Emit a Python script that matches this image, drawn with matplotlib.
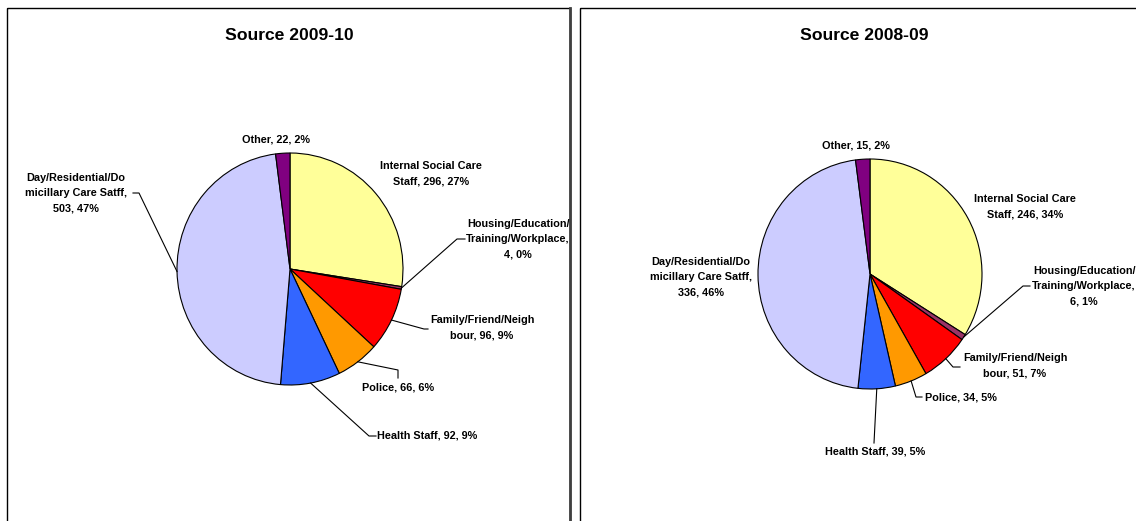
import matplotlib.pyplot as plt
import numpy as np
from matplotlib.patches import Rectangle

plt.rcParams['font.family'] = ['Liberation Sans', 'DejaVu Sans']

# 데이터
names = ['Internal Social Care\nStaff', 'Housing/Education/\nTraining/Workplace',
         'Family/Friend/Neigh\nbour', 'Police', 'Health Staff',
         'Day/Residential/Do\nmicillary Care Satff', 'Other']
wrap_after_name = [False, True, False, False, False, True, False]
colors = ['#FFFF99', '#993366', '#FF0000', '#FF9900', '#3366FF', '#CCCCFF', '#800080']

values_0910 = [296, 4, 96, 66, 92, 503, 22]
values_0809 = [246, 6, 51, 34, 39, 336, 15]
titles = ['Source 2009-10', 'Source 2008-09']

W, H = 1136, 521
fig = plt.figure(figsize=(W / 100, H / 100), dpi=100)

# 패널 배치 (픽셀)
panels = [
    dict(values=values_0910, title=titles[0], box=(7, 8, 570), title_xy=(289, 35),
         center=(290, 269), rx=113, ry=116,
         text_xy=[(431, 174), (518, 239), (482, 328), (398, 388), (427, 436), (76, 193), (276, 139)],
         leader=[None, [(457, 239), (465, 239)], [(424, 329), (428, 329)],
                 [(398, 370), (398, 378)], [(369, 436), (376, 436)],
                 [(139, 193), (133, 193)], None]),
    dict(values=values_0809, title=titles[1], box=(580, 8, 1145), title_xy=(864, 35),
         center=(870, 274), rx=112, ry=115,
         text_xy=[(1025, 207), (1084, 286), (1015, 366), (961, 397), (875, 452), (701, 277), (856, 146)],
         leader=[None, [(1023, 286), (1030, 286)], [(953, 367), (960, 367)],
                 [(916, 397), (922, 397)], [(874, 443)], None, None]),
]

wedge_sets = []
for p in panels:
    cx, cy = p['center']
    rx, ry = p['rx'], p['ry']
    ax = fig.add_axes([(cx - rx) / W, (H - cy - ry) / H, 2 * rx / W, 2 * ry / H])
    wedges, _ = ax.pie(p['values'], colors=colors, startangle=90, counterclock=False,
                       radius=1, wedgeprops=dict(edgecolor='black', linewidth=0.8))
    ax.set_xlim(-1, 1)
    ax.set_ylim(-1, 1)
    ax.set_aspect('auto')
    wedge_sets.append(wedges)

# 텍스트, 테두리, 지시선은 픽셀 좌표의 덮개 축에
ov = fig.add_axes([0, 0, 1, 1])
ov.set_xlim(0, W)
ov.set_ylim(H, 0)
ov.axis('off')

for p, wedges in zip(panels, wedge_sets):
    x0, y0, x1 = p['box']
    ov.add_patch(Rectangle((x0, y0), x1 - x0, H + 20 - y0, fill=False, ec='black', lw=1))
    ov.text(*p['title_xy'], p['title'], ha='center', va='center', fontsize=12.6, fontweight='bold')

    total = sum(p['values'])
    cx, cy = p['center']
    for i, (w, v) in enumerate(zip(wedges, p['values'])):
        pct = round(100 * v / total)
        label = names[i] + (',\n' if wrap_after_name[i] else ', ') + f'{v}, {pct}%'
        ov.text(*p['text_xy'][i], label, ha='center', va='center', fontsize=7.8,
                fontweight='bold', linespacing=1.65)
        if p['leader'][i] is not None:
            mid = np.deg2rad((w.theta1 + w.theta2) / 2)
            ax_pt = (cx + p['rx'] * np.cos(mid), cy - p['ry'] * np.sin(mid))
            pts = [ax_pt] + p['leader'][i]
            ov.plot([q[0] for q in pts], [q[1] for q in pts], color='black', lw=0.8)

# 왼쪽 패널 오른쪽 그림자 테두리
ov.plot([570, 570], [8, H + 5], color='#404040', lw=2)

fig.savefig('out.png', dpi=100)
